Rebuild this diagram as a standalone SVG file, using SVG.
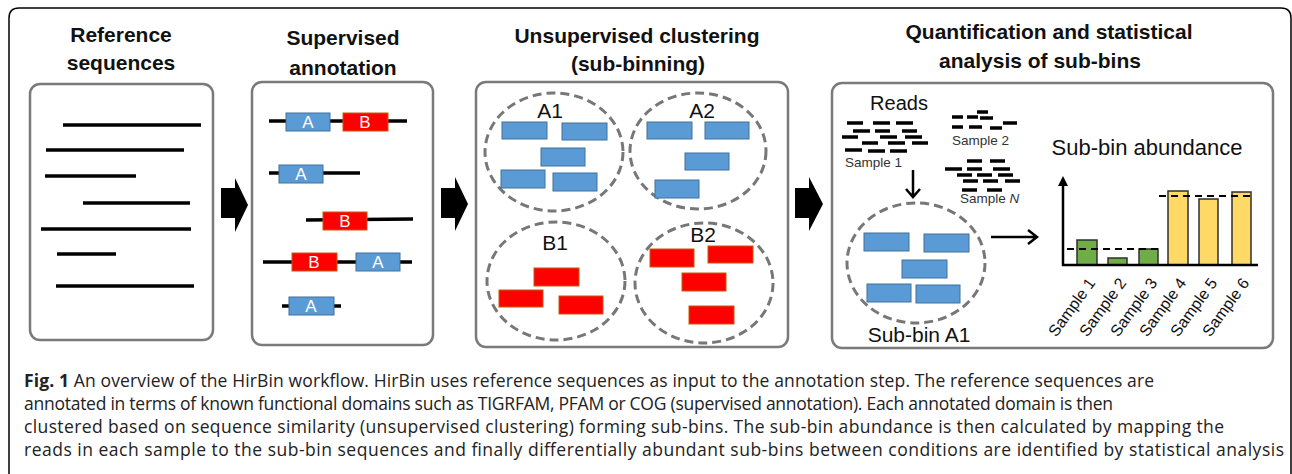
<svg xmlns="http://www.w3.org/2000/svg" width="1292" height="474" viewBox="0 0 1292 474">
<style>
.title{font-family:"Liberation Sans",Arial,sans-serif;font-weight:bold;font-size:21px;fill:#111;text-anchor:middle}
.panel{fill:#fff;stroke:#7a7a7a;stroke-width:2.5}
.seq{stroke:#000;stroke-width:3.5;fill:none}
.ba{fill:#5b9bd5;stroke:#41719c;stroke-width:1}
.bb{fill:#ff0000;stroke:#c55a11;stroke-width:1}
.dl{font-family:"Liberation Sans",Arial,sans-serif;font-size:17px;fill:#fff;text-anchor:middle}
.clu{fill:none;stroke:#777;stroke-width:3;stroke-dasharray:9 5}
.lab{font-family:"Liberation Sans",Arial,sans-serif;font-size:21px;fill:#111;text-anchor:middle}
.sm{font-family:"Liberation Sans",Arial,sans-serif;font-size:13.5px;fill:#333}
.rd{stroke:#000;stroke-width:3.5}
.blk{fill:#000}
.ln{stroke:#000;stroke-width:2.5;fill:none}
.gb{fill:#70ad47;stroke:#2f2f2f;stroke-width:1.5}
.yb{fill:#ffd966;stroke:#2f2f2f;stroke-width:1.5}
.dash{stroke:#000;stroke-width:2;stroke-dasharray:7 5}
.xl{font-family:"Liberation Sans",Arial,sans-serif;font-size:16px;fill:#111;text-anchor:end}
.cap{font-family:"Open Sans","Liberation Sans",sans-serif;font-size:17.5px;fill:#222}
</style>
<path d="M9,474 L9,18 Q9,8 19,8 L1281,8 Q1291,8 1291,18 L1291,474" fill="none" stroke="#000" stroke-width="1.5"/>

<g id="ref-sequences">
<text class="title" x="121" y="42">Reference</text>
<text class="title" x="121" y="70">sequences</text>
<rect class="panel" x="30" y="84" width="183" height="256" rx="10"/>
<line class="seq" x1="63" y1="125" x2="201" y2="125"/>
<line class="seq" x1="46" y1="150" x2="184" y2="150"/>
<line class="seq" x1="45" y1="176" x2="136" y2="176"/>
<line class="seq" x1="83" y1="203" x2="190" y2="203"/>
<line class="seq" x1="41" y1="229" x2="191" y2="229"/>
<line class="seq" x1="57" y1="254" x2="116" y2="254"/>
<line class="seq" x1="56" y1="286" x2="194" y2="286"/>
</g>

<g id="supervised-annotation">
<text class="title" x="343" y="45">Supervised</text>
<text class="title" x="343" y="75">annotation</text>
<rect class="panel" x="252" y="82" width="181" height="263" rx="10"/>
<line class="seq" x1="269" y1="121" x2="407" y2="121"/>
<rect class="ba" x="286" y="113" width="44" height="18"/><text class="dl" x="308" y="128">A</text>
<rect class="bb" x="343" y="113" width="45" height="18"/><text class="dl" x="365" y="128">B</text>
<line class="seq" x1="269" y1="173" x2="360" y2="173"/>
<rect class="ba" x="279" y="165" width="44" height="18"/><text class="dl" x="301" y="180">A</text>
<line class="seq" x1="306" y1="220" x2="413" y2="219"/>
<rect class="bb" x="323" y="212" width="44" height="18"/><text class="dl" x="345" y="227">B</text>
<line class="seq" x1="263" y1="262" x2="412" y2="262"/>
<rect class="bb" x="292" y="253" width="45" height="18"/><text class="dl" x="314" y="268">B</text>
<rect class="ba" x="356" y="253" width="44" height="18"/><text class="dl" x="378" y="268">A</text>
<line class="seq" x1="282" y1="306" x2="341" y2="306"/>
<rect class="ba" x="289" y="297" width="45" height="18"/><text class="dl" x="311" y="312">A</text>
</g>

<g id="unsupervised-clustering">
<text class="title" x="637" y="43">Unsupervised clustering</text>
<text class="title" x="638" y="71">(sub-binning)</text>
<rect class="panel" x="476" y="82" width="312" height="265" rx="10"/>
<g id="cluster-A1">
<ellipse class="clu" cx="554" cy="152" rx="69" ry="59"/>
<text class="lab" x="550" y="118">A1</text>
<rect class="ba" x="502" y="122" width="45" height="17"/>
<rect class="ba" x="562" y="123" width="45" height="17"/>
<rect class="ba" x="541" y="148" width="44" height="18"/>
<rect class="ba" x="501" y="170" width="44" height="18"/>
<rect class="ba" x="553" y="173" width="44" height="18"/>
</g>
<g id="cluster-A2">
<ellipse class="clu" cx="698" cy="151" rx="68" ry="58"/>
<text class="lab" x="702" y="118">A2</text>
<rect class="ba" x="647" y="122" width="45" height="17"/>
<rect class="ba" x="705" y="122" width="44" height="17"/>
<rect class="ba" x="685" y="153" width="44" height="17"/>
<rect class="ba" x="655" y="180" width="44" height="18"/>
</g>
<g id="cluster-B1">
<ellipse class="clu" cx="556" cy="281" rx="69" ry="59"/>
<text class="lab" x="555" y="250">B1</text>
<rect class="bb" x="534" y="268" width="45" height="18"/>
<rect class="bb" x="499" y="290" width="44" height="17"/>
<rect class="bb" x="559" y="296" width="44" height="18"/>
</g>
<g id="cluster-B2">
<ellipse class="clu" cx="704" cy="283" rx="69" ry="60"/>
<text class="lab" x="703" y="242">B2</text>
<rect class="bb" x="650" y="249" width="44" height="18"/>
<rect class="bb" x="708" y="246" width="45" height="17"/>
<rect class="bb" x="682" y="273" width="44" height="18"/>
<rect class="bb" x="689" y="306" width="45" height="18"/>
</g>
</g>

<g id="quantification">
<text class="title" x="1049" y="39">Quantification and statistical</text>
<text class="title" x="1040" y="68">analysis of sub-bins</text>
<rect class="panel" x="832" y="83" width="441" height="265" rx="10"/>
<g id="reads">
<text class="lab" x="899" y="110" style="font-size:20px">Reads</text>
<line class="rd" x1="847" y1="123" x2="863" y2="123"/><line class="rd" x1="873" y1="123" x2="890" y2="123"/><line class="rd" x1="896" y1="123" x2="913" y2="123"/>
<line class="rd" x1="853" y1="131" x2="870" y2="131"/><line class="rd" x1="875" y1="131" x2="890" y2="131"/><line class="rd" x1="902" y1="131" x2="917" y2="131"/>
<line class="rd" x1="842" y1="137" x2="858" y2="137"/><line class="rd" x1="880" y1="137" x2="897" y2="137"/><line class="rd" x1="905" y1="137" x2="922" y2="137"/>
<line class="rd" x1="862" y1="143" x2="878" y2="143"/><line class="rd" x1="888" y1="143" x2="905" y2="143"/><line class="rd" x1="912" y1="143" x2="928" y2="143"/>
<line class="rd" x1="845" y1="150" x2="862" y2="150"/><line class="rd" x1="868" y1="151" x2="885" y2="151"/><line class="rd" x1="890" y1="151" x2="907" y2="151"/>
<text class="sm" x="845" y="167">Sample 1</text>
<line class="rd" x1="977" y1="112" x2="988" y2="112"/>
<line class="rd" x1="952" y1="117" x2="963" y2="117"/><line class="rd" x1="967" y1="117" x2="978" y2="117"/><line class="rd" x1="980" y1="118" x2="993" y2="118"/>
<line class="rd" x1="1003" y1="123" x2="1017" y2="123"/>
<line class="rd" x1="952" y1="127" x2="963" y2="127"/><line class="rd" x1="969" y1="127" x2="982" y2="127"/><line class="rd" x1="990" y1="128" x2="1002" y2="128"/>
<text class="sm" x="952" y="145">Sample 2</text>
<line class="rd" x1="967" y1="161" x2="982" y2="161"/><line class="rd" x1="990" y1="161" x2="1005" y2="161"/>
<line class="rd" x1="945" y1="169" x2="962" y2="169"/><line class="rd" x1="967" y1="169" x2="982" y2="169"/><line class="rd" x1="993" y1="169" x2="1010" y2="169"/>
<line class="rd" x1="957" y1="175" x2="972" y2="175"/><line class="rd" x1="977" y1="175" x2="992" y2="175"/><line class="rd" x1="998" y1="175" x2="1013" y2="175"/>
<line class="rd" x1="963" y1="181" x2="978" y2="181"/><line class="rd" x1="983" y1="181" x2="998" y2="181"/><line class="rd" x1="1005" y1="181" x2="1020" y2="181"/>
<line class="rd" x1="962" y1="190" x2="977" y2="190"/><line class="rd" x1="987" y1="190" x2="1002" y2="190"/>
<text class="sm" x="960" y="203">Sample <tspan font-style="italic">N</tspan></text>
</g>
<g id="sub-bin-A1">
<ellipse class="clu" cx="916" cy="263" rx="69" ry="60"/>
<rect class="ba" x="864" y="233" width="45" height="18"/>
<rect class="ba" x="924" y="234" width="45" height="18"/>
<rect class="ba" x="902" y="260" width="45" height="18"/>
<rect class="ba" x="867" y="284" width="44" height="18"/>
<rect class="ba" x="916" y="285" width="44" height="18"/>
<text class="lab" x="919" y="342">Sub-bin A1</text>
</g>
<g id="abundance-chart">
<text class="lab" x="1147" y="155" style="font-size:22px">Sub-bin abundance</text>
<rect class="gb" x="1077" y="240" width="20" height="25"/>
<rect class="gb" x="1108" y="258" width="19" height="7"/>
<rect class="gb" x="1139" y="249" width="19" height="16"/>
<rect class="yb" x="1168" y="191" width="20" height="74"/>
<rect class="yb" x="1199" y="199" width="19" height="66"/>
<rect class="yb" x="1232" y="192" width="19" height="73"/>
<line class="dash" x1="1067" y1="249" x2="1160" y2="249"/>
<line class="dash" x1="1159" y1="196" x2="1254" y2="196"/>
<line class="ln" x1="1063" y1="266" x2="1063" y2="183"/>
<polygon class="blk" points="1058,186 1063,176 1068,186"/>
<line class="ln" x1="1062" y1="265" x2="1258" y2="265"/>
<text class="xl" transform="translate(1096,283) rotate(-54)">Sample 1</text>
<text class="xl" transform="translate(1127,283) rotate(-54)">Sample 2</text>
<text class="xl" transform="translate(1158,283) rotate(-54)">Sample 3</text>
<text class="xl" transform="translate(1187,283) rotate(-54)">Sample 4</text>
<text class="xl" transform="translate(1218,283) rotate(-54)">Sample 5</text>
<text class="xl" transform="translate(1250,283) rotate(-54)">Sample 6</text>
</g>
</g>

<g id="connectors">
<polygon class="blk" points="221,188 235,188 235,178 248,205 235,232 235,218 221,218"/>
<polygon class="blk" points="441,188 455,188 455,177 468,204 455,231 455,218 441,218"/>
<polygon class="blk" points="795,188 809,188 809,177 823,204 809,231 809,218 795,218"/>
<path class="ln" d="M913,170 V197 M906,189 L913,197 L920,189"/>
<path class="ln" d="M991,237 H1036 M1028,230 L1037,237 L1028,244"/>
</g>

<g id="caption">
<text class="cap" x="24" y="387" textLength="1130" lengthAdjust="spacing"><tspan font-weight="bold">Fig. 1</tspan> An overview of the HirBin workflow. HirBin uses reference sequences as input to the annotation step. The reference sequences are</text>
<text class="cap" x="24" y="410" textLength="1089" lengthAdjust="spacing">annotated in terms of known functional domains such as TIGRFAM, PFAM or COG (supervised annotation). Each annotated domain is then</text>
<text class="cap" x="24" y="433" textLength="1200" lengthAdjust="spacing">clustered based on sequence similarity (unsupervised clustering) forming sub-bins. The sub-bin abundance is then calculated by mapping the</text>
<text class="cap" x="24" y="456" textLength="1260" lengthAdjust="spacing">reads in each sample to the sub-bin sequences and finally differentially abundant sub-bins between conditions are identified by statistical analysis</text>
</g>
</svg>
